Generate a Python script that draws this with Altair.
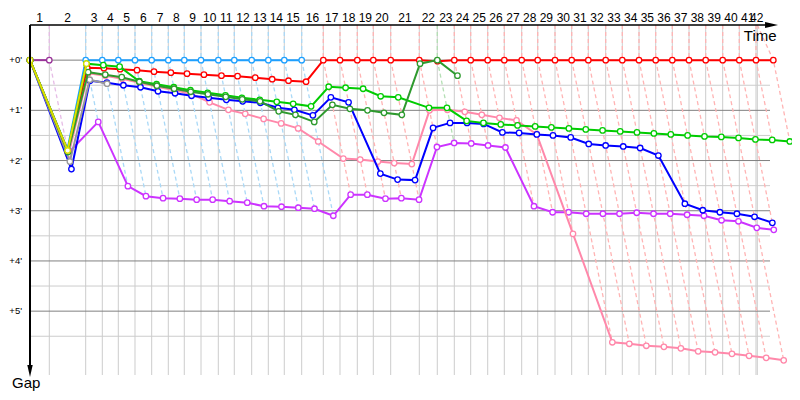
import altair as alt
import pandas as pd

# ---------------- data ----------------
# time (minutes) at which the race leader completes each lap 1..42
LEADER_TIME = [1.892, 5.461, 7.088, 8.657, 10.294, 11.931, 13.559, 15.127, 16.765, 18.461,
               20.029, 21.735, 23.363, 24.931, 26.637, 28.755, 30.392, 32.088, 33.657, 35.363,
               38.167, 39.931, 41.598, 43.206, 44.873, 46.500, 48.206, 49.775, 51.471, 53.108,
               54.735, 56.441, 58.069, 59.706, 61.343, 62.971, 64.608, 66.245, 67.912, 69.539,
               71.176, 72.873]
# time of the lap grid lines (last one = end-of-race time)
GRID_TIME = LEADER_TIME[:-1] + [71.304]
LAP_LABELS = [str(i) for i in range(1, 43)]
LAP_LEADER = ["purple"] + ["lightblue"] * 14 + ["red"] * 6 + ["darkgreen"] + ["red"] * 20

# gap to leader (minutes) for each car, laps 0..n
GAPS = {
    "purple": [0, 0],
    "magenta": [0, 1.85, 1.23, 2.51, 2.71, 2.75, 2.76, 2.78, 2.78, 2.81, 2.84, 2.91, 2.92, 2.94, 2.96,
                3.10, 2.68, 2.68, 2.76, 2.75, 2.78, 1.73, 1.65, 1.66, 1.70, 1.74, 2.91, 3.03, 3.03,
                3.06, 3.06, 3.06, 3.04, 3.06, 3.06, 3.08, 3.10, 3.19, 3.21, 3.34, 3.38],
    "pink": [0, 1.88, 0.26, 0.31, 0.37, 0.45, 0.53, 0.60, 0.67, 0.84, 0.99, 1.07, 1.17, 1.26, 1.36,
             1.62, 1.96, 1.98, 2.02, 2.05, 2.07, 1.00, 0.99, 1.03, 1.09, 1.15, 1.20, 1.48, 3.46,
             5.62, 5.65, 5.69, 5.71, 5.74, 5.80, 5.82, 5.85, 5.89, 5.93, 5.98],
    "blue": [0, 2.17, 0.41, 0.45, 0.50, 0.54, 0.62, 0.66, 0.71, 0.75, 0.79, 0.82, 0.85, 0.95, 0.99,
             1.10, 0.74, 0.84, 2.26, 2.38, 2.39, 1.35, 1.25, 1.25, 1.27, 1.44, 1.45, 1.48, 1.50,
             1.54, 1.67, 1.70, 1.72, 1.75, 1.90, 2.86, 2.99, 3.03, 3.06, 3.12, 3.24],
    "gray": [0, 2.02, 0.39, 0.47],
    "lightblue": [0, 1.78] + [0] * 14,
    "red": [0, 1.82, 0.15, 0.16, 0.18, 0.20, 0.23, 0.25, 0.27, 0.29, 0.31, 0.32, 0.35, 0.38, 0.41,
            0.43, 0, 0, 0, 0, 0, 0, 0.02] + [0] * 20,
    "green": [0, 1.80, 0.07, 0.10, 0.13, 0.42, 0.48, 0.54, 0.60, 0.65, 0.70, 0.75, 0.79, 0.83, 0.87,
              0.92, 0.53, 0.55, 0.57, 0.72, 0.74, 0.95, 0.95, 1.21, 1.25, 1.28, 1.30, 1.32, 1.34,
              1.36, 1.38, 1.40, 1.42, 1.44, 1.46, 1.48, 1.50, 1.52, 1.53, 1.55, 1.58, 1.59, 1.62],
    "darkgreen": [0, 1.83, 0.24, 0.29, 0.34, 0.43, 0.51, 0.57, 0.63, 0.68, 0.73, 0.78, 0.82, 1.02,
                  1.09, 1.23, 0.89, 0.97, 1.00, 1.05, 1.09, 0.07, 0.00, 0.31],
    "yellow": [0, 1.80, 0.07],
}
COLORS = {
    "purple": "#993399", "magenta": "#cc33ff", "pink": "#ff88aa", "blue": "#0000ff",
    "gray": "#999999", "lightblue": "#1ea0ff", "red": "#ff0000", "green": "#00cc00",
    "darkgreen": "#2e9a2e", "yellow": "#dddd00",
}
DASH_COLORS = {"purple": "#e6bce6", "lightblue": "#aad9f7", "red": "#ffb4b4", "darkgreen": "#b4dfb4"}

MAJOR_GAPS = [0, 1, 2, 3, 4, 5]
MINOR_GAPS = [0.5, 1.5, 2.5, 3.5, 4.5, 5.5]

# ---------------- derived tables ----------------
X_MAX = 72.549
Y_TOP, Y_BOT = -0.7, 6.272
xs = alt.Scale(domain=[0, X_MAX], nice=False, zero=False)
ys = alt.Scale(domain=[Y_TOP, Y_BOT], nice=False, zero=False, reverse=True)
FONT = "Liberation Sans"


def lap_time(lap):
    return 0.0 if lap == 0 else LEADER_TIME[lap - 1]


rows = []
for car, gl in GAPS.items():
    for lap, g in enumerate(gl):
        rows.append({"car": car, "lap": lap, "gap": g, "t": lap_time(lap) + g})
pts = pd.DataFrame(rows)

dash_rows = []
for k in range(1, 43):
    gmax = pts[pts.lap == k].gap.max()
    col = DASH_COLORS[LAP_LEADER[k - 1]]
    T = LEADER_TIME[k - 1]
    dash_rows += [
        {"lap": k, "o": 0, "t": GRID_TIME[k - 1], "gap": Y_TOP, "col": col},
        {"lap": k, "o": 1, "t": T, "gap": 0.0, "col": col},
        {"lap": k, "o": 2, "t": T + gmax, "gap": gmax, "col": col},
    ]
dash = pd.DataFrame(dash_rows)

vgrid = pd.DataFrame({"t": GRID_TIME, "g0": Y_TOP, "g1": Y_BOT})
hminor = pd.DataFrame({"gap": MINOR_GAPS, "t0": 0.0, "t1": X_MAX})
hmajor = pd.DataFrame({"gap": MAJOR_GAPS, "t0": 0.0, "t1": X_MAX})

mids = [(a + b) / 2 for a, b in zip([0.0] + GRID_TIME[:-1], GRID_TIME)]
lap_lab = pd.DataFrame({"t": mids, "label": LAP_LABELS, "gap": Y_TOP})
ylab = pd.DataFrame({"gap": MAJOR_GAPS, "label": [f"+{g}'" for g in MAJOR_GAPS], "t": 0.0})

X = lambda f: alt.X(f, scale=xs, axis=None)
Y = lambda f: alt.Y(f, scale=ys, axis=None)

layers = []
layers.append(alt.Chart(vgrid).mark_rule(color="#cccccc", strokeWidth=1).encode(
    x=X("t:Q"), y=Y("g0:Q"), y2="g1:Q"))
layers.append(alt.Chart(hminor).mark_rule(color="#cccccc", strokeWidth=1).encode(
    x=X("t0:Q"), x2="t1:Q", y=Y("gap:Q")))
layers.append(alt.Chart(hmajor).mark_rule(color="#808080", strokeWidth=1).encode(
    x=X("t0:Q"), x2="t1:Q", y=Y("gap:Q")))
layers.append(alt.Chart(dash).mark_line(strokeDash=[4, 3], strokeWidth=1.3).encode(
    x=X("t:Q"), y=Y("gap:Q"), detail="lap:N", order="o:Q",
    color=alt.Color("col:N", scale=None)))

for car in GAPS:
    d = pts[pts.car == car]
    c = COLORS[car]
    layers.append(alt.Chart(d).mark_line(color=c, strokeWidth=2).encode(
        x=X("t:Q"), y=Y("gap:Q"), order="lap:Q"))
    layers.append(alt.Chart(d).mark_point(shape="circle", fill="white", fillOpacity=1, stroke=c,
                                          strokeWidth=1.3, size=30, opacity=1).encode(
        x=X("t:Q"), y=Y("gap:Q")))

# axes with arrows
axes_top = pd.DataFrame({"t0": [0.0], "t1": [72.9], "gap": [Y_TOP]})
axes_left = pd.DataFrame({"t": [0.0], "g0": [Y_TOP], "g1": [6.2]})
layers.append(alt.Chart(axes_top).mark_rule(color="black", strokeWidth=1.5).encode(
    x=X("t0:Q"), x2="t1:Q", y=Y("gap:Q")))
layers.append(alt.Chart(axes_left).mark_rule(color="black", strokeWidth=2).encode(
    x=X("t:Q"), y=Y("g0:Q"), y2="g1:Q"))
layers.append(alt.Chart(pd.DataFrame({"t": [72.7], "gap": [Y_TOP]})).mark_point(
    shape="M-1,-0.45L1,0L-1,0.45Z", filled=True, color="black", size=169, opacity=1).encode(
    x=X("t:Q"), y=Y("gap:Q")))
layers.append(alt.Chart(pd.DataFrame({"t": [0.0], "gap": [6.19]})).mark_point(
    shape="M-0.45,-1L0,1L0.45,-1Z", filled=True, color="black", size=144, opacity=1).encode(
    x=X("t:Q"), y=Y("gap:Q")))

layers.append(alt.Chart(lap_lab).mark_text(font=FONT, fontSize=12, color="black", align="center",
                                           baseline="alphabetic", dy=-3.5).encode(
    x=X("t:Q"), y=Y("gap:Q"), text="label:N"))
layers.append(alt.Chart(ylab).mark_text(font=FONT, fontSize=9.5, color="black", align="right",
                                        baseline="middle", dx=-8).encode(
    x=X("t:Q"), y=Y("gap:Q"), text="label:N"))
layers.append(alt.Chart(pd.DataFrame({"t": [73.2], "gap": [Y_TOP], "label": ["Time"]})).mark_text(
    font=FONT, fontSize=15, color="black", align="right", baseline="alphabetic", dy=16).encode(
    x=X("t:Q"), y=Y("gap:Q"), text="label:N"))
layers.append(alt.Chart(pd.DataFrame({"t": [0.0], "gap": [Y_BOT], "label": ["Gap"]})).mark_text(
    font=FONT, fontSize=15, color="black", align="left", baseline="alphabetic", dx=-18, dy=13).encode(
    x=X("t:Q"), y=Y("gap:Q"), text="label:N"))

chart = alt.layer(*layers).properties(
    width=740, height=350,
    padding={"left": 22, "top": 17, "right": 22, "bottom": 17},
    autosize=alt.AutoSizeParams(type="none"),
    background="white",
).configure_view(stroke=None)

chart.save("out.html", embed_options={"renderer": "svg", "actions": False})
